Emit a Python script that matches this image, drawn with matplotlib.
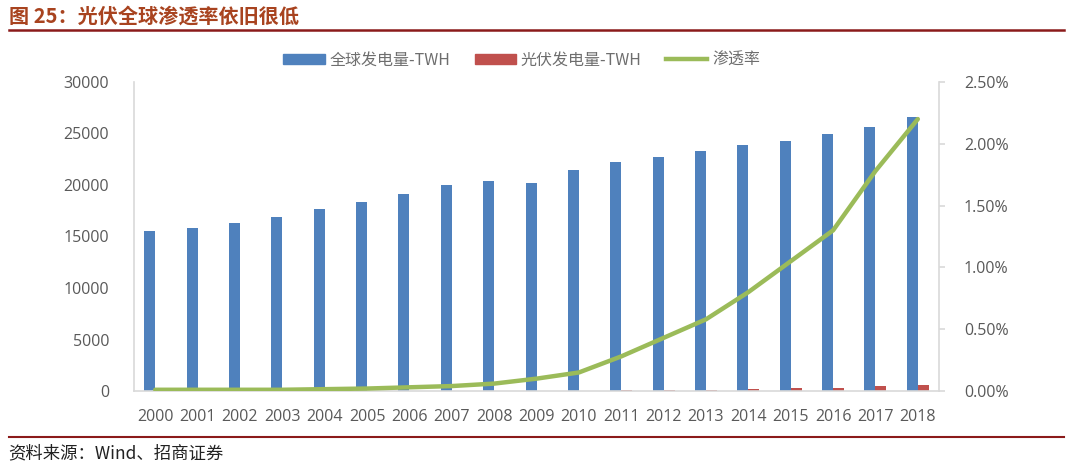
import matplotlib
matplotlib.use("Agg")
import matplotlib.pyplot as plt
from matplotlib.patches import Patch
from matplotlib.lines import Line2D
from matplotlib.ticker import FuncFormatter, MultipleLocator

years = [str(y) for y in range(2000, 2019)]
total_twh = [15500, 15800, 16300, 16900, 17650, 18350, 19150, 20000, 20400, 20200,
             21450, 22250, 22750, 23300, 23900, 24300, 24950, 25650, 26600]
pv_twh = [1, 2, 2, 2, 3, 4, 6, 8, 12, 20,
          32, 62, 98, 135, 190, 255, 325, 455, 585]
penetration = [0.0001, 0.0001, 0.0001, 0.0001, 0.00015, 0.0002, 0.0003, 0.0004, 0.0006, 0.001,
               0.0015, 0.0028, 0.0043, 0.0058, 0.0080, 0.0105, 0.0130, 0.0178, 0.0220]

title = "图 25：光伏全球渗透率依旧很低"
source = "资料来源：Wind、招商证券"
legend_labels = ["全球发电量-TWH", "光伏发电量-TWH", "渗透率"]

BLUE = "#4F81BD"
RED = "#C0504D"
GREEN = "#9BBB59"
GRAY = "#595959"
SPINE = "#D9D9D9"

plt.rcParams['font.family'] = ['Open Sans', 'Noto Sans CJK SC', 'DejaVu Sans']

fig = plt.figure(figsize=(10.69, 4.72), dpi=100)
ax = fig.add_axes([0.1254, 0.1716, 0.753, 0.6547])
ax2 = ax.twinx()

x = list(range(len(years)))
w = 0.26
ax.bar([i - w / 2 for i in x], total_twh, width=w, color=BLUE, zorder=2)
ax.bar([i + w / 2 for i in x], pv_twh, width=w, color=RED, zorder=2)
ax2.plot(x, penetration, color=GREEN, lw=3.2, solid_capstyle='round', zorder=3)

ax.set_xlim(-0.5, len(years) - 0.5)
ax.set_ylim(0, 30000)
ax.yaxis.set_major_locator(MultipleLocator(5000))
ax2.set_ylim(0, 0.025)
ax2.yaxis.set_major_locator(MultipleLocator(0.005))
ax2.yaxis.set_major_formatter(FuncFormatter(lambda v, p: f"{v*100:.2f}%"))

ax.set_xticks(x)
ax.set_xticklabels(years)

for a in (ax, ax2):
    a.spines['top'].set_visible(False)
    for s in ('left', 'right', 'bottom'):
        a.spines[s].set_color(SPINE)
        a.spines[s].set_linewidth(1.2)
ax.spines['right'].set_visible(False)
ax2.spines['left'].set_visible(False)
ax2.spines['bottom'].set_visible(False)

ax.tick_params(axis='x', length=0, pad=13, labelsize=11.5, labelcolor=GRAY)
ax.tick_params(axis='y', length=0, pad=18, labelsize=11.5, labelcolor=GRAY)
ax2.tick_params(axis='y', length=4, width=1.2, color=SPINE, direction='out', pad=14,
                labelsize=11.5, labelcolor=GRAY)

handles = [Patch(color=BLUE), Patch(color=RED), Line2D([], [], color=GREEN, lw=3.2)]
fig.legend(handles, legend_labels, loc='center', bbox_to_anchor=(0.488, 0.873), ncol=3,
           frameon=False, handlelength=2.6, handleheight=0.55, handletextpad=0.3,
           columnspacing=1.5,
           prop={'family': ['Noto Sans CJK SC', 'DejaVu Sans'], 'size': 11.5},
           labelcolor='#6E6E6E')

fig.text(0.008, 0.966, title, ha='left', va='center', fontsize=14.5, fontweight='bold',
         color='#A8431F', family=['Noto Sans CJK SC', 'DejaVu Sans'])
fig.add_artist(Line2D([0.008, 0.995], [0.937, 0.937], color='#8B1A1A', lw=1.8,
                      transform=fig.transFigure))
fig.add_artist(Line2D([0.008, 0.995], [0.074, 0.074], color='#8B1A1A', lw=1.5,
                      transform=fig.transFigure))
fig.text(0.008, 0.040, source, ha='left', va='center', fontsize=12.5, color='#222222',
         family=['Noto Sans CJK SC', 'DejaVu Sans'])

fig.savefig("out.png", dpi=100)
